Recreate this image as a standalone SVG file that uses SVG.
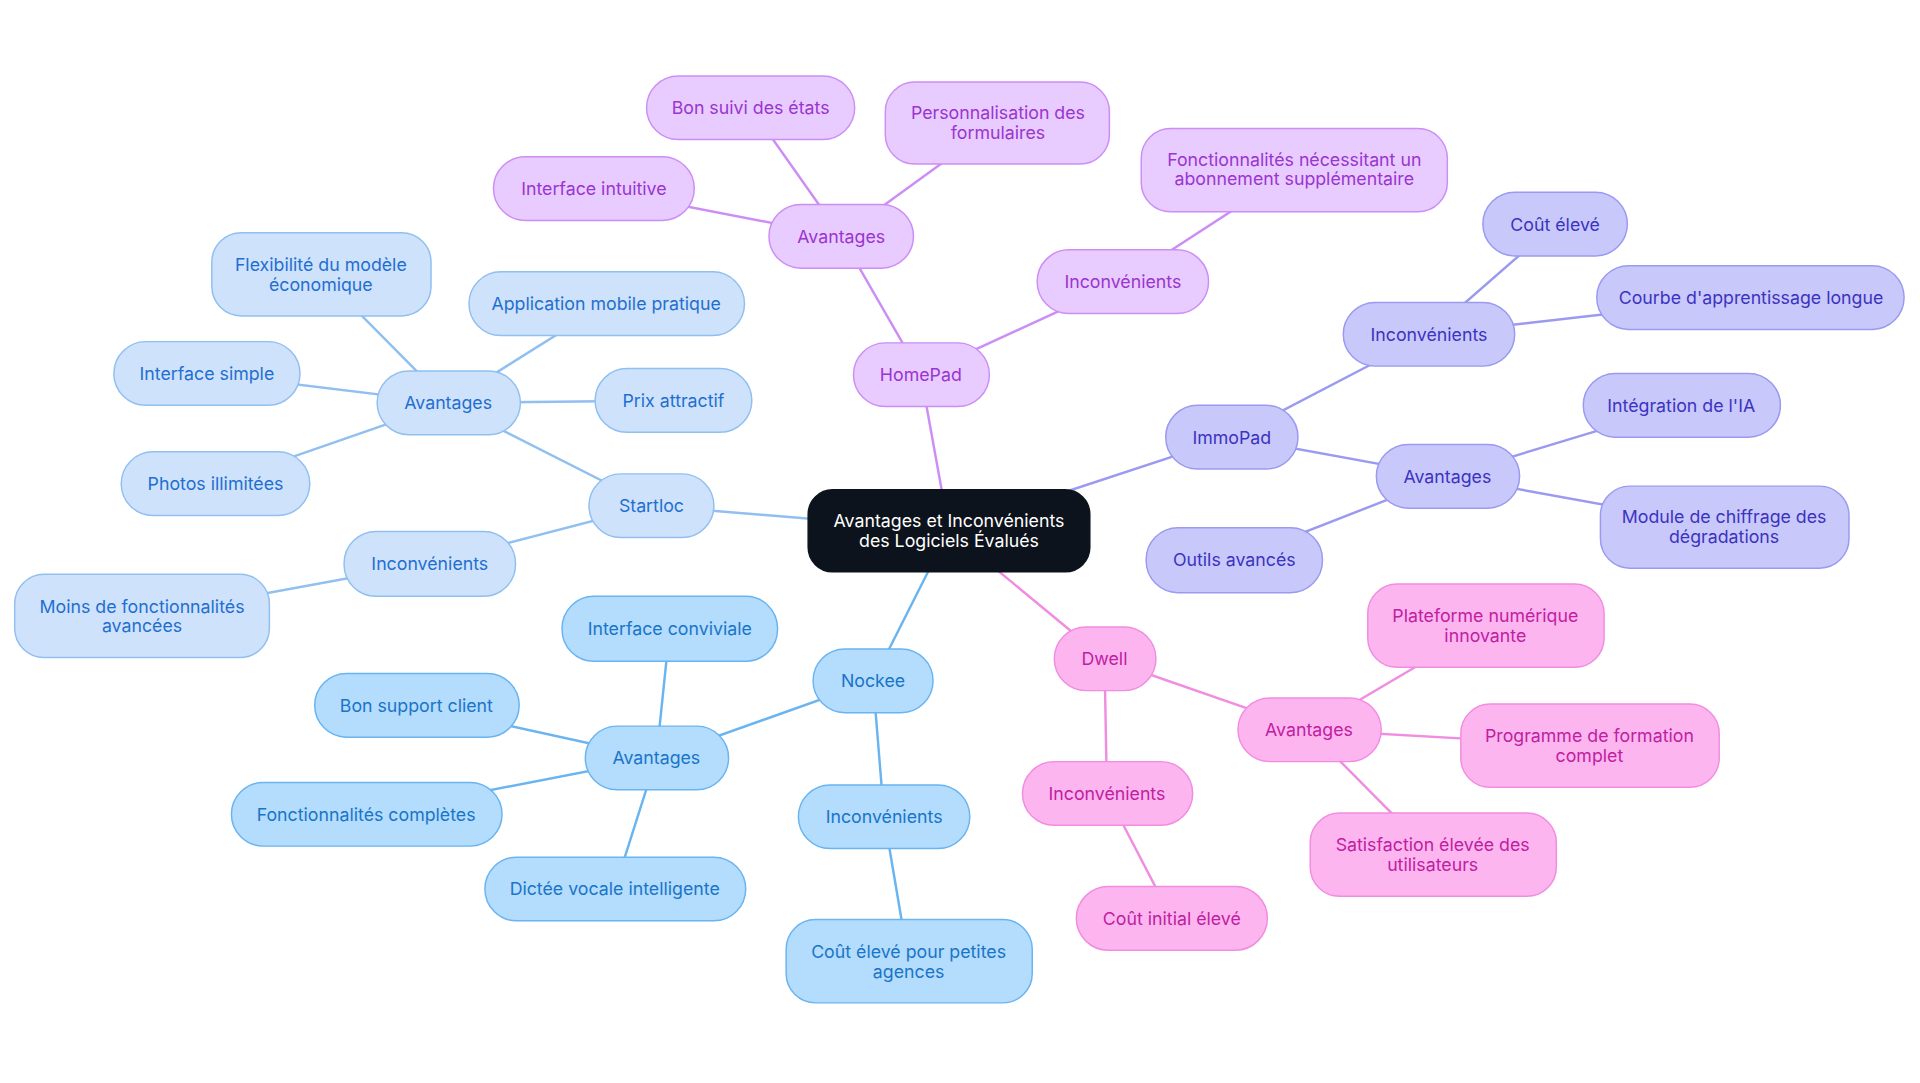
<svg xmlns="http://www.w3.org/2000/svg" width="1920" height="1083" viewBox="0 0 1920 1083">
<style>
text{font-family:Inter,"Liberation Sans",sans-serif;font-size:14.5px;text-anchor:middle;dominant-baseline:central}
.e{fill:none;stroke-width:2}
.s rect{fill:#cfe2fb;stroke:#90bff0}.s text{fill:#1f6fd0}
.n rect{fill:#b3dcfd;stroke:#6ab4f0}.n text{fill:#1a75c8}
.h rect{fill:#e8cbff;stroke:#cc8ef5}.h text{fill:#9a35d0}
.i rect{fill:#c8c8fb;stroke:#9a9af0}.i text{fill:#3c33c0}
.d rect{fill:#fdb5f0;stroke:#f08de0}.d text{fill:#c020a0}
rect{stroke-width:1.2}
</style>
<rect width="1920" height="1083" fill="#fff"/>
<g transform="scale(1.2245)">
<g id="connectors">
<g class="e" stroke="#cc8ef5">
<path d="M775 433L752 306M752 306L687 193M687 193L613 88M687 193L815 100M687 193L485 154M752 306L917 230M917 230L1057 139"/></g>
<g class="e" stroke="#9a9af0">
<path d="M775 433L1006 357M1006 357L1167 273M1167 273L1270 183M1167 273L1430 243M1006 357L1182 389M1182 389L1373 331M1182 389L1408 430M1182 389L1008 457"/></g>
<g class="e" stroke="#f08de0">
<path d="M775 433L902 538M902 538L1069 596M1069 596L1213 511M1069 596L1298 609M1069 596L1170 698M902 538L904 648M904 648L957 750"/></g>
<g class="e" stroke="#6ab4f0">
<path d="M775 433L713 556M713 556L536 619M536 619L547 513M536 619L340 576M536 619L299 665M536 619L502 726M713 556L722 667M722 667L742 785"/></g>
<g class="e" stroke="#90bff0">
<path d="M775 433L532 413M532 413L366 329M366 329L262 224M366 329L495 248M366 329L169 305M366 329L550 327M366 329L176 395M532 413L351 460M351 460L116 503"/></g>
</g>
<g id="root"><rect x="660" y="400" width="230" height="67" rx="20" fill="#0d131c" stroke="#0d131c"/><text x="775" y="425" fill="#fff">Avantages et Inconvénients</text><text x="775" y="441" fill="#fff">des Logiciels Évalués</text></g>
<g class="h">
<g id="homepad"><rect x="697" y="280" width="111" height="52" rx="26"/><text x="752" y="306">HomePad</text></g>
<g id="hp-av"><rect x="628" y="167" width="118" height="52" rx="26"/><text x="687" y="193">Avantages</text></g>
<g id="hp1"><rect x="528" y="62" width="170" height="52" rx="26"/><text x="613" y="88">Bon suivi des états</text></g>
<g id="hp2"><rect x="723" y="67" width="183" height="67" rx="24"/><text x="815" y="92">Personnalisation des</text><text x="815" y="108">formulaires</text></g>
<g id="hp3"><rect x="403" y="128" width="164" height="52" rx="26"/><text x="485" y="154">Interface intuitive</text></g>
<g id="hp-in"><rect x="847" y="204" width="140" height="52" rx="26"/><text x="917" y="230">Inconvénients</text></g>
<g id="hp4"><rect x="932" y="105" width="250" height="68" rx="24"/><text x="1057" y="130">Fonctionnalités nécessitant un</text><text x="1057" y="146">abonnement supplémentaire</text></g>
</g>
<g class="i">
<g id="immopad"><rect x="952" y="331" width="108" height="52" rx="26"/><text x="1006" y="357">ImmoPad</text></g>
<g id="ip-in"><rect x="1097" y="247" width="140" height="52" rx="26"/><text x="1167" y="273">Inconvénients</text></g>
<g id="ip1"><rect x="1211" y="157" width="118" height="52" rx="26"/><text x="1270" y="183">Coût élevé</text></g>
<g id="ip2"><rect x="1304" y="217" width="251" height="52" rx="26"/><text x="1430" y="243">Courbe d'apprentissage longue</text></g>
<g id="ip-av"><rect x="1124" y="363" width="117" height="52" rx="26"/><text x="1182" y="389">Avantages</text></g>
<g id="ip3"><rect x="1293" y="305" width="161" height="52" rx="26"/><text x="1373" y="331">Intégration de l'IA</text></g>
<g id="ip4"><rect x="1307" y="397" width="203" height="67" rx="24"/><text x="1408" y="422">Module de chiffrage des</text><text x="1408" y="438">dégradations</text></g>
<g id="ip5"><rect x="936" y="431" width="144" height="53" rx="26"/><text x="1008" y="457">Outils avancés</text></g>
</g>
<g class="d">
<g id="dwell"><rect x="861" y="512" width="83" height="52" rx="26"/><text x="902" y="538">Dwell</text></g>
<g id="dw-av"><rect x="1011" y="570" width="117" height="52" rx="26"/><text x="1069" y="596">Avantages</text></g>
<g id="dw1"><rect x="1117" y="477" width="193" height="68" rx="24"/><text x="1213" y="503">Plateforme numérique</text><text x="1213" y="519">innovante</text></g>
<g id="dw2"><rect x="1193" y="575" width="211" height="68" rx="24"/><text x="1298" y="601">Programme de formation</text><text x="1298" y="617">complet</text></g>
<g id="dw3"><rect x="1070" y="664" width="201" height="68" rx="24"/><text x="1170" y="690">Satisfaction élevée des</text><text x="1170" y="706">utilisateurs</text></g>
<g id="dw-in"><rect x="835" y="622" width="139" height="52" rx="26"/><text x="904" y="648">Inconvénients</text></g>
<g id="dw4"><rect x="879" y="724" width="156" height="52" rx="26"/><text x="957" y="750">Coût initial élevé</text></g>
</g>
<g class="n">
<g id="nockee"><rect x="664" y="530" width="98" height="52" rx="26"/><text x="713" y="556">Nockee</text></g>
<g id="nk-av"><rect x="478" y="593" width="117" height="52" rx="26"/><text x="536" y="619">Avantages</text></g>
<g id="nk1"><rect x="459" y="487" width="176" height="53" rx="26"/><text x="547" y="513">Interface conviviale</text></g>
<g id="nk2"><rect x="257" y="550" width="167" height="52" rx="26"/><text x="340" y="576">Bon support client</text></g>
<g id="nk3"><rect x="189" y="639" width="221" height="52" rx="26"/><text x="299" y="665">Fonctionnalités complètes</text></g>
<g id="nk4"><rect x="396" y="700" width="213" height="52" rx="26"/><text x="502" y="726">Dictée vocale intelligente</text></g>
<g id="nk-in"><rect x="652" y="641" width="140" height="52" rx="26"/><text x="722" y="667">Inconvénients</text></g>
<g id="nk5"><rect x="642" y="751" width="201" height="68" rx="24"/><text x="742" y="777">Coût élevé pour petites</text><text x="742" y="793">agences</text></g>
</g>
<g class="s">
<g id="startloc"><rect x="481" y="387" width="102" height="52" rx="26"/><text x="532" y="413">Startloc</text></g>
<g id="st-av"><rect x="308" y="303" width="117" height="52" rx="26"/><text x="366" y="329">Avantages</text></g>
<g id="st1"><rect x="173" y="190" width="179" height="68" rx="24"/><text x="262" y="216">Flexibilité du modèle</text><text x="262" y="232">économique</text></g>
<g id="st2"><rect x="383" y="222" width="225" height="52" rx="26"/><text x="495" y="248">Application mobile pratique</text></g>
<g id="st3"><rect x="93" y="279" width="152" height="52" rx="26"/><text x="169" y="305">Interface simple</text></g>
<g id="st4"><rect x="486" y="301" width="128" height="52" rx="26"/><text x="550" y="327">Prix attractif</text></g>
<g id="st5"><rect x="99" y="369" width="154" height="52" rx="26"/><text x="176" y="395">Photos illimitées</text></g>
<g id="st-in"><rect x="281" y="434" width="140" height="53" rx="26"/><text x="351" y="460">Inconvénients</text></g>
<g id="st6"><rect x="12" y="469" width="208" height="68" rx="24"/><text x="116" y="495">Moins de fonctionnalités</text><text x="116" y="511">avancées</text></g>
</g>
</g>
</svg>
